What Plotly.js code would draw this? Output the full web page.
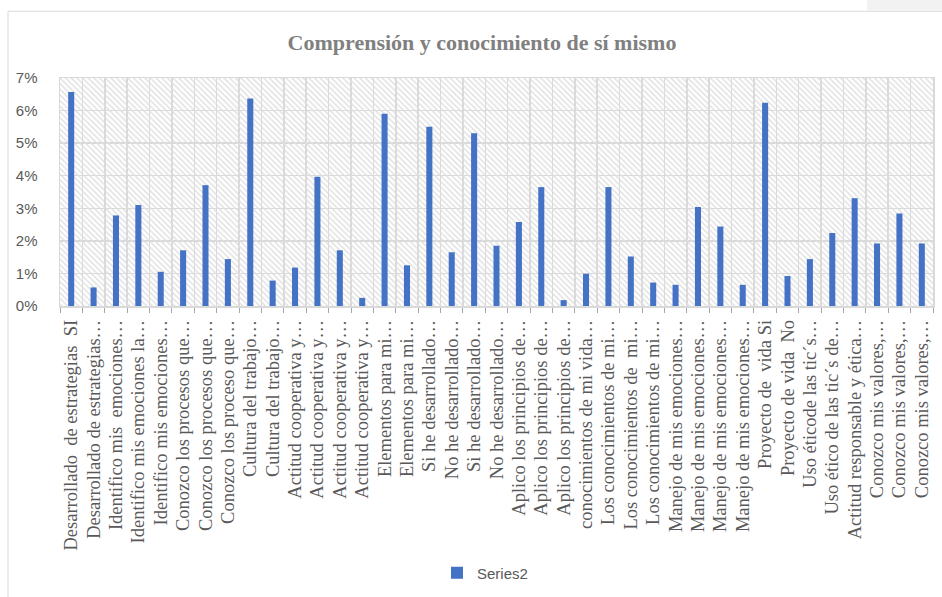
<!DOCTYPE html>
<html>
<head>
<meta charset="utf-8">
<script src="https://cdn.plot.ly/plotly-3.0.1.min.js"></script>
<style>
  html, body { margin: 0; padding: 0; background: #ffffff; }
  #chart { width: 942px; height: 597px; }
</style>
</head>
<body>
<div id="chart"></div>
<script>
// ---- data ----
const chartTitle = "Comprensión y conocimiento de sí mismo";
const seriesName = "Series2";
const categories = [
  "Desarrollado  de estrategias  SI",
  "Desarrollado de estrategias…",
  "Identifico mis  emociones…",
  "Identifico mis emociones la…",
  "Identifico mis emociones…",
  "Conozco los procesos que…",
  "Conozco los procesos que…",
  "Conozco los proceso que…",
  "Cultura del trabajo…",
  "Cultura del trabajo…",
  "Actitud cooperativa y…",
  "Actitud cooperativa y…",
  "Actitud cooperativa y…",
  "Actitud cooperativa y…",
  "Elementos para mi…",
  "Elementos para mi…",
  "Si he desarrollado…",
  "No he desarrollado…",
  "Si he desarrollado…",
  "No he desarrollado…",
  "Aplico los principios de…",
  "Aplico los principios de…",
  "Aplico los principios de…",
  "conocimientos de mi vida…",
  "Los conocimientos de mi…",
  "Los conocimientos de  mi…",
  "Los conocimientos de mi…",
  "Manejo de mis emociones…",
  "Manejo de mis emociones…",
  "Manejo de mis emociones…",
  "Manejo de mis emociones…",
  "Proyecto de  vida Si",
  "Proyecto de vida  No",
  "Uso éticode las tic´s…",
  "Uso ético de las tic´s de…",
  "Actitud responsable y ética…",
  "Conozco mis valores,…",
  "Conozco mis valores,…",
  "Conozco mis valores,…"
];
const values = [
  0.0657, 0.0057, 0.0278, 0.0310, 0.0105, 0.0171, 0.0371, 0.0144, 0.0637, 0.0078,
  0.0118, 0.0397, 0.0171, 0.0025, 0.0590, 0.0125, 0.0550, 0.0165, 0.0530, 0.0185,
  0.0258, 0.0365, 0.0018, 0.0099, 0.0365, 0.0152, 0.0072, 0.0065, 0.0304, 0.0244,
  0.0065, 0.0624, 0.0092, 0.0144, 0.0224, 0.0331, 0.0192, 0.0284, 0.0192
];
const yTickVals = [0, 0.01, 0.02, 0.03, 0.04, 0.05, 0.06, 0.07];
const yMax = 0.07;

// ---- drawing ----
const idx = categories.map((c, i) => i);
const grey = "#595959";
const gridGrey = "#d9d9d9";

const hatch = {
  type: "bar",
  x: idx,
  y: categories.map(() => yMax),
  width: 1,
  showlegend: false,
  hoverinfo: "skip",
  marker: {
    color: "rgba(0,0,0,0)",
    line: { width: 0 },
    pattern: { shape: "\\", fgcolor: "#dedede", bgcolor: "rgba(0,0,0,0)", size: 4, solidity: 0.35, fillmode: "replace" }
  }
};

const series = {
  type: "bar",
  name: seriesName,
  x: idx,
  y: values,
  width: 0.27,
  marker: { color: "#4472C4", line: { width: 0 } }
};

const layout = {
  width: 942,
  height: 597,
  paper_bgcolor: "#ffffff",
  plot_bgcolor: "#ffffff",
  margin: { l: 60, r: 9, t: 78, b: 290, pad: 0 },
  barmode: "overlay",
  title: {
    text: "<b>" + chartTitle + "</b>",
    font: { family: "Liberation Serif, Times New Roman, serif", size: 22, color: "#808080" },
    xref: "paper", x: 0.4834, xanchor: "center",
    yref: "container", y: 1 - 42 / 597, yanchor: "middle"
  },
  xaxis: {
    type: "linear",
    range: [-0.5, categories.length - 0.5],
    tickmode: "array",
    tickvals: idx,
    ticktext: categories,
    tickangle: -90,
    ticks: "",
    showgrid: false,
    zeroline: false,
    showline: true,
    linecolor: gridGrey,
    linewidth: 1.5,
    mirror: true,
    tickfont: { family: "Liberation Serif, Times New Roman, serif", size: 18.5, color: grey },
    ticklabelstandoff: 5,
    minor: {
      tickmode: "linear",
      tick0: -0.5,
      dtick: 1,
      ticks: "outside",
      ticklen: 5,
      tickcolor: "#a6a6a6",
      showgrid: true,
      gridcolor: gridGrey,
      gridwidth: 1.5
    },
    fixedrange: true
  },
  yaxis: {
    range: [0, yMax],
    tickmode: "array",
    tickvals: yTickVals,
    tickformat: ".0%",
    showgrid: true,
    gridcolor: gridGrey,
    gridwidth: 1.5,
    zeroline: false,
    showline: true,
    linecolor: gridGrey,
    linewidth: 1.5,
    mirror: true,
    ticks: "",
    ticklabelstandoff: 18,
    tickfont: { family: "Liberation Sans, Arial, sans-serif", size: 15, color: grey },
    fixedrange: true
  },
  showlegend: true,
  legend: {
    orientation: "h",
    xref: "paper", x: (485 - 60) / 873, xanchor: "center",
    yref: "paper", y: (307 - 573) / 229, yanchor: "middle",
    font: { family: "Liberation Sans, Arial, sans-serif", size: 15, color: grey },
    bgcolor: "rgba(0,0,0,0)",
    itemwidth: 30
  },
  shapes: [
    { type: "rect", xref: "paper", yref: "paper",
      x0: (8 - 60) / 873, x1: (990 - 60) / 873,
      y0: (307 - 640) / 229, y1: (307 - 11) / 229,
      line: { color: "#d9d9d9", width: 1 }, fillcolor: "rgba(0,0,0,0)", layer: "below" },
    { type: "rect", xref: "paper", yref: "paper",
      x0: (867 - 60) / 873, x1: (960 - 60) / 873,
      y0: (307 - 10.5) / 229, y1: (307 + 10) / 229,
      line: { width: 0 }, fillcolor: "#f2f2f2", layer: "below" }
  ]
};

Plotly.newPlot("chart", [hatch, series], layout, { displayModeBar: false, staticPlot: true });
</script>
</body>
</html>
